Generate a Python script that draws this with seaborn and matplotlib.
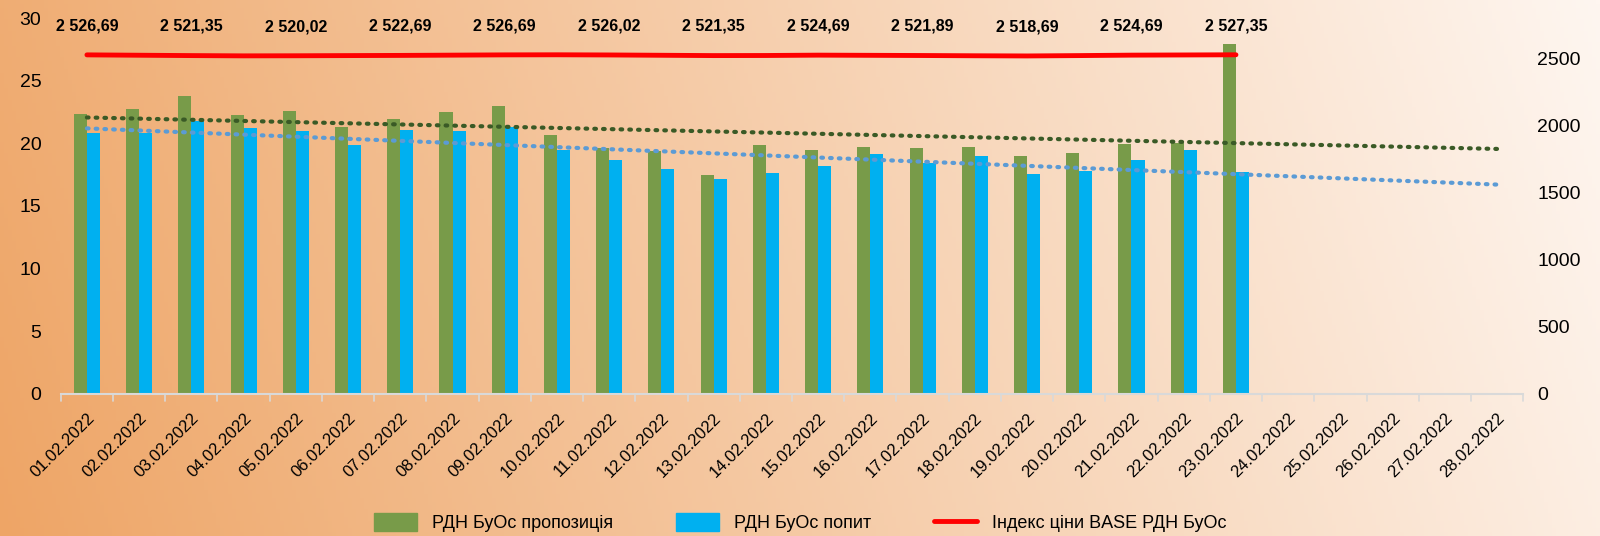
import numpy as np
import pandas as pd
import matplotlib
matplotlib.use("Agg")
import matplotlib.pyplot as plt
import seaborn as sns
from matplotlib.patches import Patch
from matplotlib.lines import Line2D

# dates of the month (28 days), bars only for first 23
dates = ["%02d.02.2022" % d for d in range(1, 29)]
days_with_data = dates[:23]

propozytsia = [22.33, 22.73, 23.75, 22.25, 22.60, 21.27, 21.93, 22.52, 22.95, 20.65,
               19.60, 19.37, 17.47, 19.87, 19.50, 19.71, 19.66, 19.71, 19.02, 19.21,
               19.95, 20.06, 27.97]
popyt = [20.83, 20.81, 21.77, 21.21, 21.00, 19.87, 21.07, 21.02, 21.29, 19.45,
         18.67, 17.92, 17.12, 17.60, 18.17, 19.13, 18.43, 19.02, 17.58, 17.76,
         18.65, 19.45, 17.68]
tsina = [2526.69, 2524.02, 2521.35, 2519.35, 2520.02, 2521.35, 2522.69, 2524.69, 2526.69, 2527.35,
         2526.02, 2523.69, 2521.35, 2522.02, 2524.69, 2523.35, 2521.89, 2520.02, 2518.69, 2521.35,
         2524.69, 2526.02, 2527.35]

name_prop = "РДН БуОс пропозиція"
name_pop = "РДН БуОс попит"
name_idx = "Індекс ціни BASE РДН БуОс"

df = pd.DataFrame({
    "data": days_with_data * 2,
    "val": propozytsia + popyt,
    "seria": [name_prop] * 23 + [name_pop] * 23,
})

sns.set_theme(style="white")
plt.rcParams["font.family"] = ["Liberation Sans", "DejaVu Sans"]
plt.rcParams["text.color"] = "black"
plt.rcParams["xtick.color"] = "black"
plt.rcParams["ytick.color"] = "black"

fig = plt.figure(figsize=(16, 5.36), dpi=100)

# gradient background
bg = fig.add_axes([0, 0, 1, 1], zorder=-10)
gx, gy = np.meshgrid(np.linspace(0, 1, 400), np.linspace(0, 1, 140))
t = np.clip(gx * 0.9 + gy * 0.1, 0, 1)
c0 = np.array([238, 165, 102]) / 255
c1 = np.array([254, 246, 240]) / 255
img = c0[None, None, :] * (1 - t[..., None]) + c1[None, None, :] * t[..., None]
bg.imshow(img, aspect="auto", origin="lower", extent=[0, 1, 0, 1])
bg.axis("off")

ax = fig.add_axes([0.038, 0.2655, 0.914, 0.7005])
ax.set_facecolor("none")

sns.barplot(data=df, x="data", y="val", hue="seria", order=dates,
            palette=["#789B49", "#00B0F0"], width=0.5, gap=0, ax=ax,
            legend=False, saturation=1, linewidth=0, edgecolor="none")

# linear trendlines (like Excel), extended to the end of the month
xs = np.arange(23)
xall = np.arange(28)
for vals, col in [(propozytsia, "#3A5A26"), (popyt, "#5B9BD5")]:
    k, b = np.polyfit(xs, vals, 1)
    ax.plot(xall, k * xall + b, linestyle=(0, (0.4, 1.7)), color=col,
            linewidth=3, dash_capstyle="round", zorder=5)

ax.set_xlim(-0.5, 27.5)
ax.set_ylim(0, 30)
ax.set_yticks([0, 5, 10, 15, 20, 25, 30])
ax.set_xlabel("")
ax.set_ylabel("")
ax.tick_params(axis="y", length=0, labelsize=14, pad=14)
ax.set_xticks(np.arange(28))
ax.set_xticklabels(dates, rotation=45, ha="right", va="top",
                   rotation_mode="anchor", fontsize=12)
ax.tick_params(axis="x", length=0, pad=12)
for s in ["top", "left", "right"]:
    ax.spines[s].set_visible(False)
ax.spines["bottom"].set_color("#D9D9D9")
ax.spines["bottom"].set_linewidth(1.5)
for xb in np.arange(-0.5, 28, 1):
    ax.plot([xb, xb], [0, -0.6], color="#D9D9D9", lw=1.2, clip_on=False)

ax2 = ax.twinx()
ax2.set_facecolor("none")
sns.lineplot(x=xs, y=tsina, color="#FF0000", linewidth=3.5, ax=ax2)
ax2.set_ylim(0, 2800)
ax2.set_yticks([0, 500, 1000, 1500, 2000, 2500])
ax2.tick_params(axis="y", length=0, labelsize=14, pad=10)
for s in ["top", "left", "right", "bottom"]:
    ax2.spines[s].set_visible(False)
ax2.set_ylabel("")

for i in range(0, 23, 2):
    lbl = ("%.2f" % tsina[i]).replace(".", ",")
    lbl = lbl[0] + " " + lbl[1:]
    ax2.annotate(lbl, (xs[i], tsina[i]), xytext=(0, 21), textcoords="offset points",
                 ha="center", va="center", fontsize=11.5, fontweight="bold")

handles = [Patch(color="#789B49"), Patch(color="#00B0F0"),
           Line2D([], [], color="#FF0000", lw=3.5)]
fig.legend(handles, [name_prop, name_pop, name_idx], loc="center",
           bbox_to_anchor=(0.5, 0.025), ncol=3, frameon=False, fontsize=13,
           columnspacing=3.5, handlelength=2.4, handleheight=1.1)

fig.savefig("out.png", dpi=100)
